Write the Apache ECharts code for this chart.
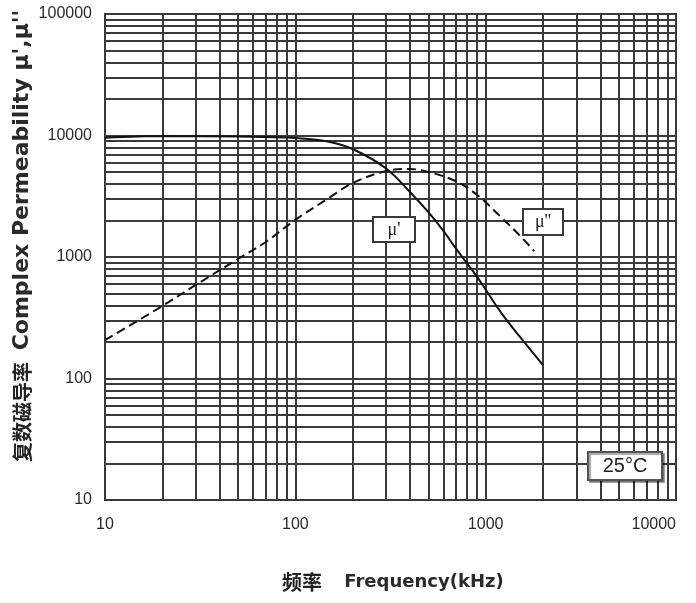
<!DOCTYPE html>
<html>
<head>
<meta charset="utf-8">
<script src="https://cdn.jsdelivr.net/npm/echarts@6/dist/echarts.min.js"></script>
<style>
html,body{margin:0;padding:0;background:#fff;}
#c{width:696px;height:603px;}
</style>
</head>
<body>
<div id="c"></div>
<script>
// ---- data ----
const freqReal = [10, 20, 50, 100, 150, 200, 300, 400, 500, 600, 700, 900, 1200, 1500, 2000];
const muReal   = [9600, 9900, 9800, 9550, 8900, 7740, 5350, 3430, 2340, 1640, 1165, 690, 352, 224, 129];

const freqImag = [10, 20, 30, 50, 70, 100, 150, 200, 300, 400, 500, 700, 900, 1200, 1500, 1800];
const muImag   = [207, 395, 589, 963, 1330, 2020, 3060, 4060, 5110, 5300, 5010, 4200, 3250, 2140, 1520, 1120];

const xTickLabels = ['10', '100', '1000', '10000'];
const yTickLabels = ['10', '100', '1000', '10000', '100000'];

// minor grid values (2..9 x decade)
const xMinor = [];
for (const d of [10, 100, 1000]) for (let k = 2; k <= 9; k++) xMinor.push(k * d);
const yMinor = [];
for (const d of [10, 100, 1000, 10000]) for (let k = 2; k <= 9; k++) yMinor.push(k * d);

const GRID = '#3a3a3a';
const chart = echarts.init(document.getElementById('c'), null, {renderer: 'canvas'});

const labelFont = 'Liberation Sans, Arial, sans-serif';
chart.setOption({
  animation: false,
  backgroundColor: '#ffffff',
  grid: {left: 105, right: 20, top: 14, bottom: 103, show: true, borderColor: GRID, borderWidth: 2, backgroundColor: 'transparent'},
  xAxis: {
    type: 'log', logBase: 10, min: 10, max: 10000,
    axisLine: {show: true, lineStyle: {color: GRID, width: 2}},
    axisTick: {show: false},
    splitLine: {show: true, lineStyle: {color: GRID, width: 2}},
    axisLabel: {
      fontSize: 16, color: '#2a2a2a', fontFamily: labelFont, margin: 17,
      alignMaxLabel: 'right',
      formatter: v => xTickLabels[Math.round(Math.log10(v)) - 1]
    }
  },
  yAxis: {
    type: 'log', logBase: 10, min: 10, max: 100000,
    axisLine: {show: true, lineStyle: {color: GRID, width: 2}},
    axisTick: {show: false},
    splitLine: {show: true, lineStyle: {color: GRID, width: 2}},
    axisLabel: {
      fontSize: 16, color: '#2a2a2a', fontFamily: labelFont, margin: 13,
      formatter: v => yTickLabels[Math.round(Math.log10(v)) - 1]
    }
  },
  series: [
    {
      name: 'grid', type: 'line', data: [], z: 1, silent: true,
      markLine: {
        silent: true, z: 1, symbol: ['none', 'none'], animation: false,
        label: {show: false},
        lineStyle: {color: GRID, width: 2, type: 'solid'},
        emphasis: {disabled: true},
        data: xMinor.map(v => ({xAxis: v})).concat(yMinor.map(v => ({yAxis: v})))
      }
    },
    {
      name: "μ'", type: 'line', z: 5, showSymbol: false, smooth: 0.35,
      data: freqReal.map((f, i) => [f, muReal[i]]),
      lineStyle: {color: '#111', width: 2}
    },
    {
      name: "μ''", type: 'line', z: 5, showSymbol: false, smooth: 0.35,
      data: freqImag.map((f, i) => [f, muImag[i]]),
      lineStyle: {color: '#111', width: 2, type: [9, 5]}
    }
  ],
  graphic: [
    // axis titles
    {type: 'text', x: 22, y: 412, rotation: Math.PI / 2, style: {text: '复数磁导率', font: 'bold 20px "Noto Sans CJK SC"', fill: '#222', align: 'center', verticalAlign: 'middle'}},
    {type: 'text', x: 22, y: 180, rotation: Math.PI / 2, style: {text: "Complex Permeability μ',μ''", font: 'bold 22px "DejaVu Sans"', fill: '#2a2a2a', align: 'center', verticalAlign: 'middle'}},
    {type: 'text', x: 302, y: 582, style: {text: '频率', font: 'bold 20px "Noto Sans CJK SC"', fill: '#222', align: 'center', verticalAlign: 'middle'}},
    {type: 'text', x: 424, y: 582, style: {text: 'Frequency(kHz)', font: 'bold 18px "DejaVu Sans"', fill: '#2a2a2a', align: 'center', verticalAlign: 'middle'}},
    // curve labels
    {type: 'rect', z: 10, shape: {x: 373, y: 217, width: 42, height: 25}, style: {fill: '#fff', stroke: GRID, lineWidth: 2}},
    {type: 'text', z: 11, x: 394, y: 230, style: {text: "μ'", font: '18px "Liberation Serif"', fill: '#222', align: 'center', verticalAlign: 'middle'}},
    {type: 'rect', z: 10, shape: {x: 523, y: 209, width: 40, height: 26}, style: {fill: '#fff', stroke: GRID, lineWidth: 2}},
    {type: 'text', z: 11, x: 543, y: 222, style: {text: "μ''", font: '18px "Liberation Serif"', fill: '#222', align: 'center', verticalAlign: 'middle'}},
    // temperature box
    {type: 'rect', z: 10, shape: {x: 588, y: 452, width: 74, height: 28}, style: {fill: '#fff', stroke: '#555', lineWidth: 2, shadowColor: 'rgba(0,0,0,0.35)', shadowOffsetX: 2, shadowOffsetY: 2, shadowBlur: 1}},
    {type: 'text', z: 11, x: 625, y: 466, style: {text: '25°C', font: '20px "Liberation Sans"', fill: '#222', align: 'center', verticalAlign: 'middle'}}
  ]
});
</script>
</body>
</html>
